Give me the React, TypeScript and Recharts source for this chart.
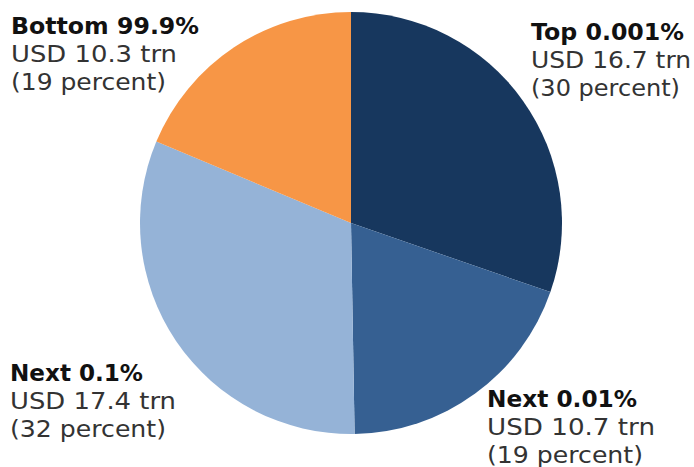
import React from "react";
import { PieChart, Pie, Cell } from "recharts";

const groups = ["Top 0.001%", "Next 0.01%", "Next 0.1%", "Bottom 99.9%"];
const wealthTrn = [16.7, 10.7, 17.4, 10.3];
const percents = [30, 19, 32, 19];
const colors = ["#17375e", "#366092", "#95b3d7", "#f79646"];

const data = groups.map((g, i) => ({ name: g, value: wealthTrn[i], pct: percents[i] }));

// label layout: [x, firstBaseline, widths of the 3 lines]
const labelLayout: { x: number; y: number; w: number[] }[] = [
  { x: 531, y: 40, w: [153, 160, 149] },
  { x: 487, y: 407, w: [150, 168, 156] },
  { x: 10, y: 381, w: [133, 166, 156] },
  { x: 11, y: 34, w: [188, 166, 155] },
];

const LINE = 28;

const renderLabel = (props: any) => {
  const i = props.index;
  const d = data[i];
  const l = labelLayout[i];
  const lines = [d.name, `USD ${d.value} trn`, `(${d.pct} percent)`];
  return (
    <g key={`lbl-${i}`}>
      {lines.map((t, k) => (
        <text
          key={k}
          x={l.x}
          y={l.y + k * LINE}
          textLength={l.w[k]}
          lengthAdjust="spacingAndGlyphs"
          fontFamily="DejaVu Sans"
          fontSize={23}
          fontWeight={k === 0 ? "bold" : "normal"}
          fill={k === 0 ? "#111" : "#333"}
          textAnchor="start"
        >
          {t}
        </text>
      ))}
    </g>
  );
};

export default function App() {
  return (
    <div style={{ position: "absolute", left: 0, top: 0, width: 694, height: 467, background: "#fff" }}>
      <PieChart width={694} height={467} margin={{ top: 0, right: 0, bottom: 0, left: 0 }}>
        <Pie
          data={data}
          dataKey="value"
          nameKey="name"
          cx={351}
          cy={223}
          outerRadius={211}
          startAngle={90}
          endAngle={-270}
          stroke="none"
          label={renderLabel}
          labelLine={false}
          isAnimationActive={false}
        >
          {data.map((d, i) => (
            <Cell key={i} fill={colors[i]} />
          ))}
        </Pie>
      </PieChart>
    </div>
  );
}
